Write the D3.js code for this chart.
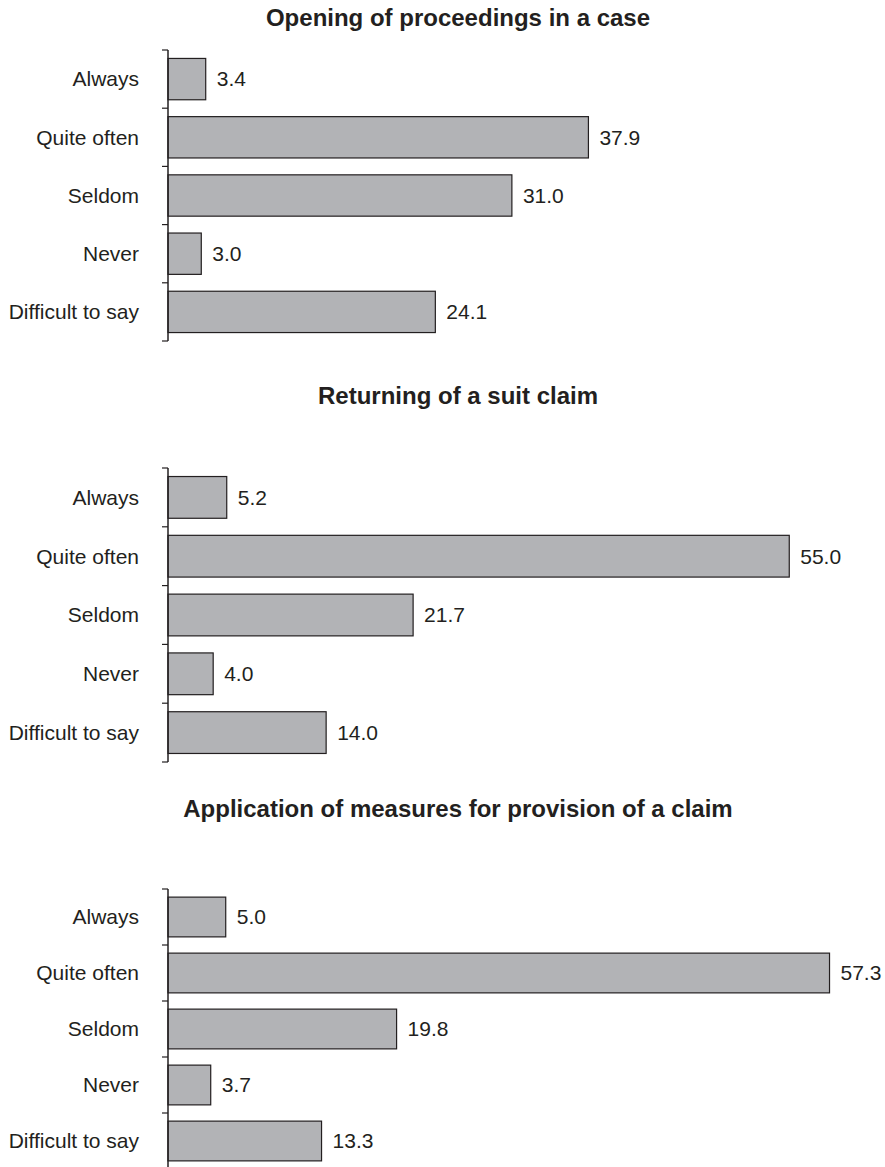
<!DOCTYPE html>
<html>
<head>
<meta charset="utf-8">
<script src="https://cdn.jsdelivr.net/npm/d3@7"></script>
<style>
    body { margin: 0; background: #fff; }
    text { font-family: "Liberation Sans", Arial, sans-serif; fill: #231f20; }
</style>
</head>
<body>
<div id="chart"></div>
<script>
// categories shared by all three panels
const categories = ['Always', 'Quite often', 'Seldom', 'Never', 'Difficult to say']

const titles = [
    'Opening of proceedings in a case',
    'Returning of a suit claim',
    'Application of measures for provision of a claim',
]

const openingValues = [3.4, 37.9, 31.0, 3.0, 24.1]
const returningValues = [5.2, 55.0, 21.7, 4.0, 14.0]
const measuresValues = [5.0, 57.3, 19.8, 3.7, 13.3]

const seriesValues = [openingValues, returningValues, measuresValues]

// upper end of the value axis per panel
const xMaxes = [61.3, 60.2, 58.9]

const WIDTH = 885
const HEIGHT = 1167
const AXIS_X = 168
const BAR_SPAN = 680
const TITLE_X = 458

// vertical placement of each panel
const panels = [
    { titleY: 26, top: 50, bottom: 341 },
    { titleY: 404, top: 468, bottom: 762 },
    { titleY: 817, top: 889, bottom: 1169 },
]

const svg = d3.select('#chart')
    .append('svg')
    .attr('width', WIDTH)
    .attr('height', HEIGHT)

panels.forEach((p, i) => {
    const values = seriesValues[i]
    const data = categories.map((c, k) => ({ cat: c, value: values[k] }))

    const x = d3.scaleLinear()
        .domain([0, xMaxes[i]])
        .range([AXIS_X, AXIS_X + BAR_SPAN])

    const y = d3.scaleBand()
        .domain(categories)
        .range([p.top, p.bottom])
        .paddingInner(0.29)
        .paddingOuter(0.145)

    const g = svg.append('g')

    g.append('text')
        .attr('x', TITLE_X)
        .attr('y', p.titleY)
        .attr('text-anchor', 'middle')
        .style('font-size', '24px')
        .style('font-weight', 'bold')
        .text(titles[i])

    g.selectAll('rect.bar')
        .data(data)
        .join('rect')
        .attr('class', 'bar')
        .attr('x', x(0))
        .attr('y', (d) => y(d.cat))
        .attr('width', (d) => x(d.value) - x(0))
        .attr('height', y.bandwidth())
        .attr('fill', '#b2b3b6')
        .attr('stroke', '#231f20')
        .attr('stroke-width', 1.2)

    // axis line with ticks between categories
    const half = (y.step() - y.bandwidth()) / 2
    const bounds = categories.map((c) => y(c) - half)
    bounds.push(p.bottom)

    g.append('line')
        .attr('x1', AXIS_X).attr('x2', AXIS_X)
        .attr('y1', p.top).attr('y2', p.bottom)
        .attr('stroke', '#231f20')
        .attr('stroke-width', 1.5)

    g.selectAll('line.tick')
        .data(bounds)
        .join('line')
        .attr('class', 'tick')
        .attr('x1', AXIS_X - 6).attr('x2', AXIS_X)
        .attr('y1', (d) => d).attr('y2', (d) => d)
        .attr('stroke', '#231f20')
        .attr('stroke-width', 1.2)

    g.selectAll('text.cat')
        .data(data)
        .join('text')
        .attr('class', 'cat')
        .attr('x', AXIS_X - 29)
        .attr('y', (d) => y(d.cat) + y.bandwidth() / 2)
        .attr('dy', '0.35em')
        .attr('text-anchor', 'end')
        .style('font-size', '21px')
        .text((d) => d.cat)

    g.selectAll('text.val')
        .data(data)
        .join('text')
        .attr('class', 'val')
        .attr('x', (d) => x(d.value) + 11)
        .attr('y', (d) => y(d.cat) + y.bandwidth() / 2)
        .attr('dy', '0.35em')
        .style('font-size', '21px')
        .text((d) => d.value.toFixed(1))
})
</script>
</body>
</html>
